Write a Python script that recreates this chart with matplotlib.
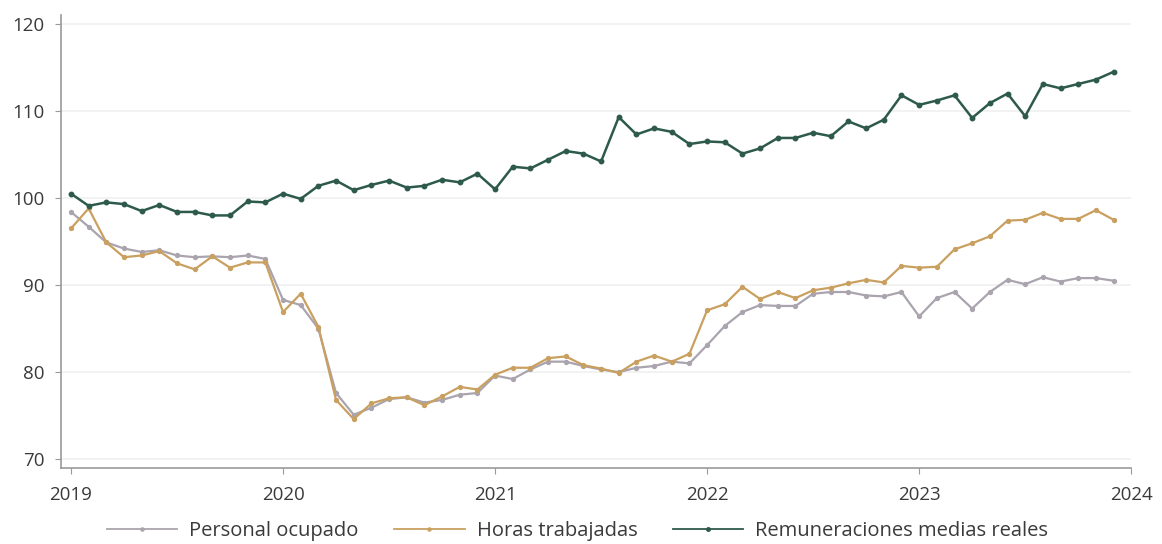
import numpy as np
import matplotlib
matplotlib.use("Agg")
import matplotlib.pyplot as plt

# serie mensual ene-2019 a dic-2023
personal = [98.4, 96.7, 94.9, 94.2, 93.8, 94.0, 93.4, 93.2, 93.3, 93.2, 93.4, 93.0,
            88.3, 87.7, 85.0, 77.6, 75.1, 75.9, 76.9, 77.1, 76.5, 76.8, 77.4, 77.6,
            79.6, 79.2, 80.3, 81.2, 81.2, 80.7, 80.3, 80.0, 80.5, 80.7, 81.2, 81.0,
            83.1, 85.3, 86.9, 87.7, 87.6, 87.6, 89.0, 89.2, 89.2, 88.8, 88.7, 89.2,
            86.4, 88.5, 89.2, 87.3, 89.2, 90.6, 90.1, 90.9, 90.4, 90.8, 90.8, 90.5]
horas = [96.5, 98.8, 94.9, 93.2, 93.4, 93.9, 92.5, 91.8, 93.3, 92.0, 92.6, 92.6,
         86.9, 89.0, 85.2, 76.8, 74.6, 76.4, 77.0, 77.1, 76.2, 77.2, 78.3, 78.0,
         79.7, 80.5, 80.5, 81.6, 81.8, 80.8, 80.4, 79.9, 81.2, 81.9, 81.2, 82.1,
         87.1, 87.8, 89.8, 88.4, 89.2, 88.5, 89.4, 89.7, 90.2, 90.6, 90.3, 92.2,
         92.0, 92.1, 94.1, 94.8, 95.6, 97.4, 97.5, 98.3, 97.6, 97.6, 98.6, 97.5]
remuneraciones = [100.5, 99.1, 99.5, 99.3, 98.5, 99.2, 98.4, 98.4, 98.0, 98.0, 99.6, 99.5,
                  100.5, 99.9, 101.4, 102.0, 100.9, 101.5, 102.0, 101.2, 101.4, 102.1, 101.8, 102.8,
                  101.0, 103.6, 103.4, 104.4, 105.4, 105.1, 104.2, 109.3, 107.3, 108.0, 107.6, 106.2,
                  106.5, 106.4, 105.1, 105.7, 106.9, 106.9, 107.5, 107.1, 108.8, 108.0, 109.0, 111.8,
                  110.7, 111.2, 111.8, 109.2, 110.9, 112.0, 109.4, 113.1, 112.6, 113.1, 113.6, 114.5]
years = [2019, 2020, 2021, 2022, 2023, 2024]
yticks = [70, 80, 90, 100, 110, 120]

x = 2019 + np.arange(len(personal)) / 12

plt.rcParams['font.family'] = ['Open Sans', 'DejaVu Sans']

fig = plt.figure(figsize=(11.62, 5.44), dpi=100)
ax = fig.add_axes([0.0525, 0.140, 0.921, 0.832])

ax.plot(x, personal, color='#aaa4ae', lw=1.6, marker='o', ms=2.8, label='Personal ocupado')
ax.plot(x, horas, color='#c9a060', lw=1.6, marker='o', ms=2.8, label='Horas trabajadas')
ax.plot(x, remuneraciones, color='#2d5a4c', lw=1.8, marker='o', ms=3.2, label='Remuneraciones medias reales')

ax.set_xlim(2018.953, 2024.0)
ax.set_ylim(69, 121)
ax.set_xticks(years)
ax.set_xticklabels([str(y) for y in years])
ax.set_yticks(yticks)
ax.grid(axis='y', color='#f0f0f0', lw=1.2)
ax.set_axisbelow(True)

for s in ['top', 'right']:
    ax.spines[s].set_visible(False)
for s in ['left', 'bottom']:
    ax.spines[s].set_color('#999999')
    ax.spines[s].set_linewidth(1.2)
ax.tick_params(axis='both', colors='#999999', labelcolor='#3a3a3a', labelsize=13.5, length=4)
ax.tick_params(axis='x', pad=9)
ax.tick_params(axis='y', pad=8)

leg = fig.legend(loc='center', ncol=3, frameon=False, fontsize=14.5,
                 bbox_to_anchor=(0.497, 0.024), handlelength=3.5, handletextpad=0.6,
                 columnspacing=1.75, markerscale=0.8)
for t in leg.get_texts():
    t.set_color('#3a3a3a')
for h in leg.get_lines():
    h.set_linewidth(1.3)

fig.savefig('out.png', dpi=100)
